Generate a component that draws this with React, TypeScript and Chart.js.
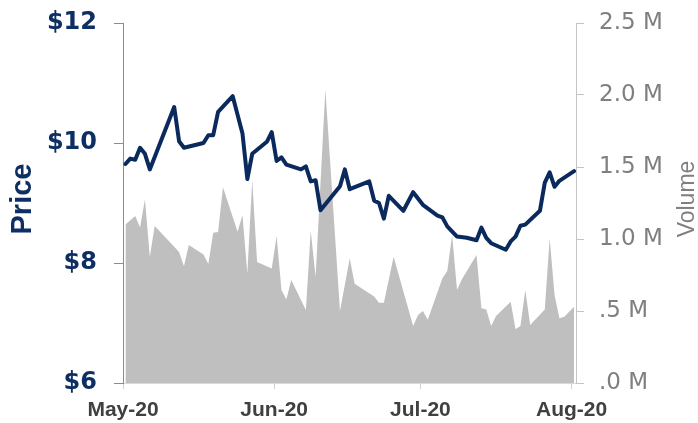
import React, { useEffect, useRef } from 'react';
import { Chart, registerables } from 'chart.js';

Chart.register(...registerables);

// Day index: 0 = 1 May 2020
const priceDays = [0, 1, 2, 3, 4, 5, 10, 11, 12, 16, 17, 18, 19, 22, 24, 25, 26, 29, 30, 31, 32, 33, 36, 37, 38, 39, 40, 44, 45, 46, 50, 51, 52, 53, 54, 57, 59, 61, 64, 65, 66, 68, 70, 72, 73, 74, 75, 78, 79, 80, 81, 82, 85, 86, 87, 88, 89, 92];
const priceValues = [9.65, 9.74, 9.72, 9.92, 9.82, 9.56, 10.6, 10.03, 9.92, 10.0, 10.13, 10.13, 10.52, 10.78, 10.16, 9.4, 9.82, 10.02, 10.18, 9.7, 9.76, 9.64, 9.56, 9.61, 9.36, 9.38, 8.88, 9.28, 9.56, 9.23, 9.36, 9.04, 9.0, 8.74, 9.12, 8.87, 9.18, 8.97, 8.79, 8.76, 8.61, 8.44, 8.42, 8.38, 8.59, 8.42, 8.33, 8.22, 8.36, 8.44, 8.62, 8.64, 8.87, 9.34, 9.51, 9.27, 9.37, 9.53];

// Volume in millions
const volumeDays = [0, 2, 3, 4, 5, 6, 11, 12, 13, 16, 17, 18, 19, 20, 23, 24, 25, 26, 27, 30, 31, 32, 33, 34, 37, 38, 39, 41, 44, 46, 47, 51, 52, 53, 55, 59, 60, 61, 62, 65, 66, 67, 68, 69, 72, 73, 74, 75, 76, 79, 80, 81, 82, 83, 86, 87, 88, 89, 90, 92];
const volumeValues = [1.1, 1.16, 1.08, 1.275, 0.877, 1.09, 0.91, 0.81, 0.958, 0.893, 0.826, 1.044, 1.049, 1.36, 1.05, 1.167, 0.76, 1.41, 0.84, 0.796, 1.02, 0.646, 0.58, 0.715, 0.507, 1.058, 0.738, 2.04, 0.5, 0.866, 0.69, 0.6, 0.558, 0.558, 0.877, 0.396, 0.472, 0.5, 0.44, 0.727, 0.778, 1.028, 0.646, 0.72, 0.889, 0.519, 0.51, 0.396, 0.465, 0.565, 0.373, 0.396, 0.646, 0.403, 0.51, 1.005, 0.611, 0.449, 0.46, 0.53];

const monthTickDays = [-0.5, 30.5, 60.5, 91.5];
const monthTickLabels = ['May-20', 'Jun-20', 'Jul-20', 'Aug-20'];
const priceTicks = [6, 8, 10, 12];
const volumeTicks = [0, 0.5, 1, 1.5, 2, 2.5];
const volumeTickLabels = ['.0 M', '.5 M', '1.0 M', '1.5 M', '2.0 M', '2.5 M'];
const priceTitle = 'Price';
const volumeTitle = 'Volume';

const NAVY = '#0a2a5e';
const NAVY_TEXT = '#0e2f63';
const GREY_AREA = '#bfbfbf';
const GREY_TEXT = '#7f7f7f';

const titlePlugin = {
  id: 'axisTitles',
  afterDraw(chart: any) {
    const { ctx, chartArea } = chart;
    const midY = (chartArea.top + chartArea.bottom) / 2 - 4;
    ctx.save();
    ctx.textAlign = 'center';
    ctx.textBaseline = 'middle';
    ctx.save();
    ctx.translate(chartArea.left - 100.5, midY);
    ctx.rotate(-Math.PI / 2);
    ctx.font = 'bold 29px "Liberation Sans"';
    ctx.fillStyle = NAVY_TEXT;
    ctx.fillText(priceTitle, 0, 0);
    ctx.restore();
    ctx.save();
    ctx.translate(chartArea.right + 112, midY);
    ctx.rotate(-Math.PI / 2);
    ctx.font = '23px "Liberation Sans"';
    ctx.fillStyle = GREY_TEXT;
    ctx.fillText(volumeTitle, 0, 0);
    ctx.restore();
    ctx.restore();
  },
};

const noPad = (s: any) => {
  s.paddingTop = 0;
  s.paddingBottom = 0;
  s.paddingLeft = 0;
  s.paddingRight = 0;
};

export default function App() {
  const ref = useRef<HTMLCanvasElement | null>(null);
  useEffect(() => {
    if (!ref.current) return;
    const chart = new Chart(ref.current, {
      type: 'line',
      data: {
        datasets: [
          {
            label: 'Price',
            data: priceDays.map((d, i) => ({ x: d, y: priceValues[i] })),
            yAxisID: 'y',
            borderColor: NAVY,
            borderWidth: 4,
            borderJoinStyle: 'round',
            borderCapStyle: 'round',
            pointRadius: 0,
            tension: 0,
            fill: false,
            order: 0,
          },
          {
            label: 'Volume',
            data: volumeDays.map((d, i) => ({ x: d, y: volumeValues[i] })),
            yAxisID: 'y1',
            borderWidth: 0,
            borderColor: GREY_AREA,
            backgroundColor: GREY_AREA,
            pointRadius: 0,
            tension: 0,
            fill: 'origin',
            order: 1,
          },
        ],
      },
      options: {
        responsive: false,
        animation: false,
        devicePixelRatio: 1,
        layout: { padding: { top: 23, left: 0, right: 0, bottom: 0 } },
        plugins: { legend: { display: false }, tooltip: { enabled: false } },
        scales: {
          x: {
            type: 'linear',
            min: -0.5,
            max: 92.4,
            afterBuildTicks: (s: any) => {
              s.ticks = monthTickDays.map((v) => ({ value: v }));
            },
            afterFit: (s: any) => {
              s.height = 40;
              noPad(s);
            },
            ticks: {
              autoSkip: false,
              maxRotation: 0,
              padding: 9,
              color: '#404040',
              font: { family: '"Liberation Sans"', size: 21, weight: 'bold' },
              callback: (_v: any, i: number) => monthTickLabels[i],
            },
            grid: { drawOnChartArea: false, drawTicks: true, tickLength: 6, color: '#d0d0d0' },
            border: { display: true, color: '#d9d9d9', width: 1 },
          },
          y: {
            type: 'linear',
            position: 'left',
            min: 6,
            max: 12,
            afterBuildTicks: (s: any) => {
              s.ticks = priceTicks.map((v) => ({ value: v }));
            },
            afterFit: (s: any) => {
              s.width = 123;
              noPad(s);
            },
            ticks: {
              padding: 17,
              color: NAVY_TEXT,
              font: { family: '"DejaVu Sans"', size: 24, weight: 'bold' },
              callback: (v: any) => '$' + v,
            },
            grid: { drawOnChartArea: false, drawTicks: true, tickLength: 9, color: '#8c8c8c' },
            border: { display: true, color: '#8c8c8c', width: 1 },
          },
          y1: {
            type: 'linear',
            position: 'right',
            min: 0,
            max: 2.5,
            afterBuildTicks: (s: any) => {
              s.ticks = volumeTicks.map((v) => ({ value: v }));
            },
            afterFit: (s: any) => {
              s.width = 122;
              noPad(s);
            },
            ticks: {
              padding: 15,
              color: GREY_TEXT,
              font: { family: '"DejaVu Sans"', size: 23 },
              callback: (_v: any, i: number) => volumeTickLabels[i],
            },
            grid: { drawOnChartArea: false, drawTicks: true, tickLength: 8, color: '#c4c4c4' },
            border: { display: true, color: '#c4c4c4', width: 1 },
          },
        },
      },
      plugins: [titlePlugin],
    } as any);
    return () => chart.destroy();
  }, []);
  return (
    <div style={{ position: 'absolute', left: 0, top: 0, width: 698, height: 423 }}>
      <canvas ref={ref} width={698} height={423} />
    </div>
  );
}
